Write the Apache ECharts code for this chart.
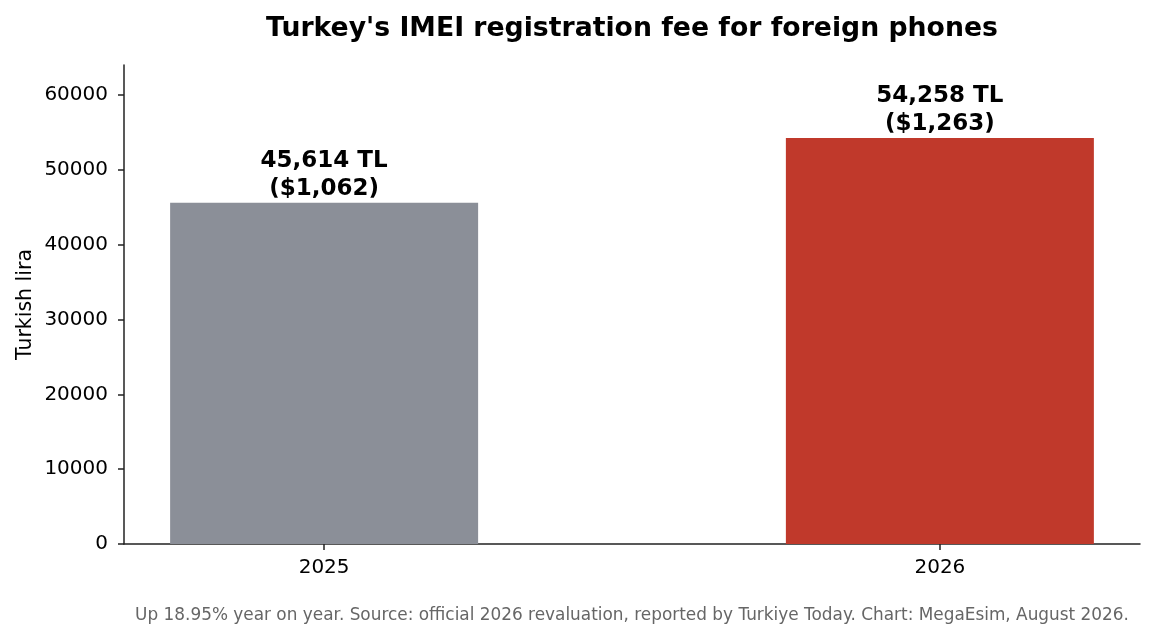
<!DOCTYPE html>
<html>
<head>
<meta charset="utf-8">
<script src="https://cdn.jsdelivr.net/npm/echarts@6/dist/echarts.min.js"></script>
<style>
  html, body { margin: 0; padding: 0; background: #fff; }
  #chart { width: 1154px; height: 640px; }
</style>
</head>
<body>
<div id="chart"></div>
<script>
// data
var years = ['2025', '2026'];
var feesTL = [45614, 54258];
var feesUSD = [1062, 1263];
var barColors = ['#8b8f98', '#c0392b'];
var yTicks = [0, 10000, 20000, 30000, 40000, 50000, 60000];

var FONT = 'DejaVu Sans';
var dom = document.getElementById('chart');
var myChart = echarts.init(dom, null, { renderer: 'canvas' });

function fmt(n) {
    return n.toString().replace(/\B(?=(\d{3})+(?!\d))/g, ',');
}

var barData = feesTL.map(function (v, i) {
    return { value: [i, v], itemStyle: { color: barColors[i] } };
});

var axisLine = { show: true, onZero: false, lineStyle: { color: '#222', width: 1.5 } };
var axisTick = { show: true, length: 6, lineStyle: { color: '#222', width: 1.5 } };

var option = {
    animation: false,
    backgroundColor: '#fff',
    title: {
        text: "Turkey's IMEI registration fee for foreign phones",
        left: 627,
        top: 11,
        textAlign: 'center',
        textStyle: { fontFamily: FONT, fontSize: 26.7, fontWeight: 'bold', color: '#000' }
    },
    graphic: [{
        type: 'text',
        x: 632,
        y: 616,
        style: {
            text: 'Up 18.95% year on year. Source: official 2026 revaluation, reported by Turkiye Today. Chart: MegaEsim, August 2026.',
            align: 'center',
            verticalAlign: 'middle',
            font: '16.9px "DejaVu Sans"',
            fill: '#666'
        }
    }],
    grid: { left: 124, right: 14, top: 65, bottom: 96 },
    xAxis: {
        type: 'value',
        min: -0.325,
        max: 1.325,
        splitLine: { show: false },
        axisLine: axisLine,
        axisTick: Object.assign({ customValues: [0, 1] }, axisTick),
        axisLabel: {
            customValues: [0, 1],
            formatter: function (v) { return years[Math.round(v)]; },
            fontFamily: FONT, fontSize: 20, color: '#000', margin: 14
        }
    },
    yAxis: {
        type: 'value',
        min: 0,
        max: 64024,
        name: 'Turkish lira',
        nameLocation: 'middle',
        nameGap: 88,
        nameMoveOverlap: false,
        nameTextStyle: { fontFamily: FONT, fontSize: 20.5, color: '#000' },
        splitLine: { show: false },
        axisLine: axisLine,
        axisTick: Object.assign({ customValues: yTicks }, axisTick),
        axisLabel: {
            customValues: yTicks,
            formatter: function (v) { return String(v); },
            fontFamily: FONT, fontSize: 20, color: '#000', margin: 16
        }
    },
    series: [{
        type: 'bar',
        barWidth: 308,
        data: barData,
        label: {
            show: true,
            position: 'top',
            distance: 0,
            align: 'center',
            lineHeight: 28,
            fontFamily: FONT,
            fontSize: 23,
            fontWeight: 'bold',
            color: '#000',
            formatter: function (p) {
                var i = p.dataIndex;
                return fmt(feesTL[i]) + ' TL\n($' + fmt(feesUSD[i]) + ')';
            }
        }
    }]
};

myChart.setOption(option);
window.addEventListener('resize', myChart.resize);
</script>
</body>
</html>
